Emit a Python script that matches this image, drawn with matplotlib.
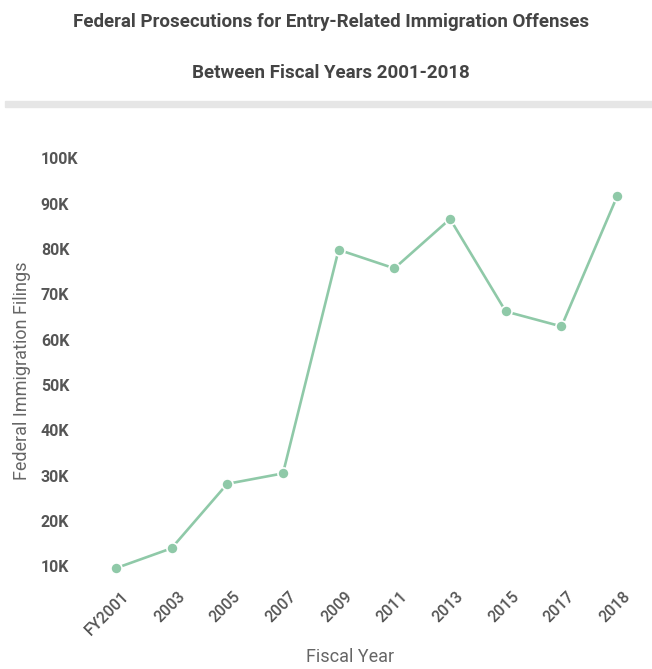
import matplotlib.pyplot as plt
from matplotlib.ticker import FuncFormatter

# values
years = ['FY2001', '2003', '2005', '2007', '2009', '2011', '2013', '2015', '2017', '2018']
filings = [9600, 14000, 28200, 30500, 79800, 75700, 86600, 66200, 62900, 91600]
y_ticks = [10000, 20000, 30000, 40000, 50000, 60000, 70000, 80000, 90000, 100000]

plt.rcParams['font.family'] = ['Roboto', 'DejaVu Sans']

fig = plt.figure(figsize=(6.52, 6.69), dpi=100)
W, H = 652, 669

# title block
fig.text(331 / W, 1 - 22 / H, 'Federal Prosecutions for Entry-Related Immigration Offenses',
         ha='center', va='center', fontsize=13.5, fontweight='bold', color='#444444')
fig.text(331 / W, 1 - 73 / H, 'Between Fiscal Years 2001-2018',
         ha='center', va='center', fontsize=13.5, fontweight='bold', color='#444444')
fig.patches.append(plt.Rectangle((5 / W, 1 - 107 / H), 647 / W, 6 / H,
                                 transform=fig.transFigure, color='#e6e6e6', zorder=0))

# axes placed so ticks land where they are in the reference
left, right = 88, 645
top, bottom = 140, 580
ax = fig.add_axes([left / W, 1 - bottom / H, (right - left) / W, (bottom - top) / H])

x = range(len(years))
ax.plot(x, filings, color='#8fc9a8', linewidth=1.9, marker='o', markersize=8,
        markerfacecolor='#8fc9a8', markeredgecolor='white', markeredgewidth=1.2,
        clip_on=False, zorder=3)

ax.set_xlim(-0.5, len(years) - 0.5)
ax.set_ylim(7000, 104000)
ax.set_xticks([i + 0.1 for i in x])
ax.set_xticklabels(years, rotation=45, ha='right', va='top', rotation_mode='anchor',
                   fontsize=11.5, color='#555555', fontweight='medium')
ax.set_yticks(y_ticks)
ax.yaxis.set_major_formatter(FuncFormatter(lambda v, p: f'{int(v / 1000)}K'))
for lab in ax.get_yticklabels():
    lab.set_horizontalalignment('left')
ax.tick_params(axis='y', length=0, pad=34, labelsize=11.5, labelcolor='#555555')
ax.tick_params(axis='x', length=0, pad=6)
for lab in ax.get_yticklabels():
    lab.set_fontweight('bold')

for s in ax.spines.values():
    s.set_visible(False)

fig.text(22 / W, 1 - 371 / H, 'Federal Immigration Filings', rotation=90,
         ha='center', va='center', fontsize=13, color='#666666')
fig.text(350 / W, 1 - 657 / H, 'Fiscal Year', ha='center', va='center',
         fontsize=13, color='#666666')

fig.savefig('out.png', dpi=100)
